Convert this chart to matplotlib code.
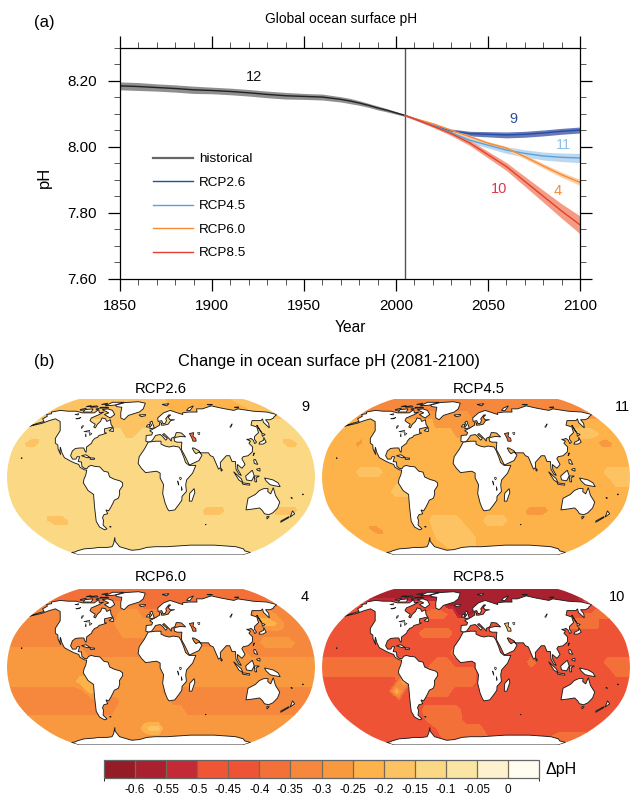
import numpy as np
import matplotlib
matplotlib.use("Agg")
import matplotlib.pyplot as plt
from matplotlib.colors import ListedColormap, BoundaryNorm
from matplotlib.colorbar import ColorbarBase
from matplotlib.patches import Polygon

plt.rcParams['font.family'] = ['Liberation Sans', 'DejaVu Sans']
W, H = 644, 805

# ---------- panel (a) data ----------
hist_years = [1850, 1860, 1870, 1880, 1890, 1900, 1910, 1920, 1930, 1940, 1950, 1960, 1970, 1975, 1980, 1985, 1990, 1995, 2000, 2005]
hist_ph = [8.185, 8.183, 8.180, 8.177, 8.173, 8.171, 8.168, 8.164, 8.159, 8.155, 8.153, 8.151, 8.144, 8.139, 8.133, 8.126, 8.118, 8.111, 8.103, 8.095]
hist_hw = [0.012, 0.012, 0.011, 0.011, 0.011, 0.010, 0.010, 0.010, 0.010, 0.010, 0.009, 0.009, 0.008, 0.008, 0.007, 0.006, 0.006, 0.005, 0.004, 0.003]
fut_years = [2005, 2010, 2020, 2030, 2040, 2050, 2060, 2070, 2080, 2090, 2100]
rcp26 = [8.095, 8.085, 8.065, 8.048, 8.040, 8.038, 8.036, 8.038, 8.042, 8.047, 8.051]
rcp26_hw = [0.002, 0.003, 0.004, 0.006, 0.007, 0.008, 0.009, 0.009, 0.009, 0.009, 0.009]
rcp45 = [8.095, 8.085, 8.065, 8.043, 8.020, 8.005, 7.990, 7.980, 7.972, 7.968, 7.966]
rcp45_hw = [0.002, 0.003, 0.004, 0.006, 0.008, 0.009, 0.010, 0.011, 0.012, 0.013, 0.014]
rcp60 = [8.095, 8.086, 8.070, 8.050, 8.031, 8.011, 7.996, 7.970, 7.942, 7.915, 7.892]
rcp60_hw = [0.002, 0.003, 0.003, 0.004, 0.004, 0.005, 0.005, 0.006, 0.007, 0.008, 0.009]
rcp85 = [8.095, 8.085, 8.063, 8.040, 8.012, 7.976, 7.940, 7.895, 7.850, 7.805, 7.763]
rcp85_hw = [0.002, 0.003, 0.004, 0.006, 0.008, 0.010, 0.012, 0.015, 0.018, 0.022, 0.027]
labels = ['historical', 'RCP2.6', 'RCP4.5', 'RCP6.0', 'RCP8.5']

# ---------- panel (b) data: dpH band letter per 10-degree ocean cell ----------
levels = [-0.65, -0.6, -0.55, -0.5, -0.45, -0.4, -0.35, -0.3, -0.25, -0.2, -0.15, -0.1, -0.05, 0.0, 0.05]
band_colors = ['#941c26', '#a9212f', '#c42a35', '#f05536', '#ee5336', '#f37139', '#f6883d',
               '#f8993f', '#fdb24a', '#fdc261', '#fbd883', '#fbe5a3', '#fdf2cd', '#fffcf0']
band_letters = 'ABCDEFGHIJKLMN'
row_lats = [85, 75, 65, 55, 45, 35, 25, 15, 5, -5, -15, -25, -35, -45, -55, -65, -75, -85]
lon_center = 10

grid26 = [
 'JJJJJJJJJJJJJJJJJJJIIIIIIIIIIIIIIJJJ',
 'JJJJJJJJJJJJJJJJJJJIIIIIIIIIIIIIIJJJ',
 'JJJJJJJJJJJJJJJJJJJJJIIIIIIIIIIJJJJJ',
 'KKKKKKKKKKKJJJJJJJKKKKKKKKKKKKKKKKKK',
 'KKKKKKKKKKKKKJJKKKKKKKKKKKKKKKKKKKKK',
 'KJJKKKKKKKKKKKKKKKKKKKKKKKKKKKKKKJJK',
 'KKKKKKKKKKKKKKKKKKKKKKKKKKKKKKKKKKKK',
 'KKKKKKKKKKKKKKKKKKKKKKKKKKKKKKKKKKKK',
 'KKKKKKKKKKKKKKKKKKKKKKKKKKKKKKKKKKKK',
 'KKKKKKKKKKKKKKKKKKKKKKKKKKKKKKKKKKKK',
 'KKKKKKKKKKKKKKKKKKKKKKKKKKKKKKKKKKKK',
 'KKKKKKKKKKKKKKKKKKKKKKKKKKKKKKKKKKKK',
 'KKKKKKKKKKKKKKKKKKKKKKKJJJKKKKKKJJJK',
 'KKKJJJKKKKKKKKKKKKKKKKKKKKKKKKKKKKKK',
 'KKKKKKKKKKKKKKKKKKKKKKKKKKKKKKKKKKKK',
 'KKKKKKKKKKKKKKKKKKKKKKKKKKKKKKKKKKKK',
 'KKKKKKKKKKKKKKKKKKKKKKKKKKKKKKKKKKKK',
 'KKKKKKKKKKKKKKKKKKKKKKKKKKKKKKKKKKKK',
]
grid45 = [
 'GGGGGGGGGGGGGGGGGGGGGGGGGGGGGGGGGGGG',
 'GGGGGGGGGGGGGGGGGGGGGGGGGGGGGGGGGGGG',
 'HHHHHHHHHHHHHHHHHGGGGGGGGGGGGGGGHHHH',
 'IIIIIIIIIIIIHHHHHHHHIIIIIIIIIIIIIIII',
 'IIIIIIIIIIIIIIIHHIIIIIIIIIIIIIIJJJII',
 'IIIHIIIIIIIIIIIIIIIIIIIIIIIIIIIIIHHI',
 'IIIIIIIIIIIIIIIIIIIIIIIIIIIIIIIIIIII',
 'IIIIIIIIIIIIIIIIIIIIIIIIIIIIIIIIIIII',
 'IIIIJJJIIIIIIIIIIIIIIIIIIIIIIIIIIJJJ',
 'IIIIIIIIIJIIIIIIIIIIIIIIIIIIIIIIIIJJ',
 'IIIIIIIIJJJIIIIIIIIIIIIIIIIIIIIIIIII',
 'IIIIIIIIIIIIIIIIIIIIIIIIIIIIIIIIIIII',
 'IIIIIIIIIIIIIIIIIIIIIIIIHHHIIIIIIIII',
 'IIIIIIIIIIIIJJJJIIIJJJIIIIIIIIIIIIII',
 'IIIHHIIIIIIIJJJJJIIIIIIIIIIIIIIIIIII',
 'IIIIIIIIIIIIJJJJJJIIIIIIIIIIIIIIIIII',
 'IIIIIIIIIIIIIJJJJJIIIIIIIIIIIIIIIIII',
 'IIIIIIIIIIIIIIIIIIIIIIIIIIIIIIIIIIII',
]
grid60 = [
 'FFFFFFFFFFFFFFFFFFFFFFFFFFFFFFFFFFFF',
 'FFFFFFFFFFFFFFFFFFFFFFFFFFFFFFFFFFFF',
 'GGGGGGGGGGGGGGGFFFFFFFFFFFFFFFFFFGGG',
 'GGGGGGGGGGGGHHHGGGGGGGGGGGGGGGGHHHGG',
 'GGGGGGGGGGGGHHHHHGGGGGGGGGGGGGGIIHGG',
 'GGGGGGGGGGGGGHHHHGGGGGGGGGGGGGGGGGGG',
 'GGGGGGGGGGGGGGGGGGGGGGGGGGGGGGHHHHGG',
 'HHHHHHHHHGGGGGGGHHHHHHHHHHHHGGGGGGGG',
 'HHHHHHHHHHHHHHHHHHHHHHHHHHHHHHHHHHHH',
 'HHHHHHHHHHHHHHHHHHHHHHHHHHHHHHHHHHHH',
 'HHHHHHHHIIHHHHHHHHHHHHHHHHHHHHHHHHHH',
 'GGGGGGGGGIHHHHHHHHGGGGGGGGGGGGGGGGGG',
 'GGGGGGGGGGGGGHHHHHHGGGGGGGGGGGGGGGGG',
 'GGGGGGGGGGGGHHHHHHHHHGGGGGGGGGGGGGGG',
 'HHHHHHHHHHHHHHHHHHHHHHHHHHHHHHHHHHHH',
 'HHHHHHHHHHHHHHHIJJHHHHHHHHHHHHHHHHHH',
 'HHHHHHHHHHHHHHHHHHHHHHHHHHHHHHHHHHHH',
 'HHHHHHHHHHHHHHHHHHHHHHHHHHHHHHHHHHHH',
]
grid85 = [
 'BBBBBBBBBBBBBBBBBBBBBBBBBBBBBBBBBBBB',
 'BBBBBBBBBBBBBBBBBBBBBBBBBBBBBBBBBBBB',
 'EEEEEEEEEEEEEBBBBBBBBBBBBBBBBBBBBBBE',
 'EEEEEEEEEEEFFFEBBBEEEEEEEEEEEEEEEFFF',
 'EEEEEEEEEEEEEEEEEEEEEEEEEEEEEFFFFFEE',
 'EEEEEEEEEEEFFFFEEEEEEEEEEEEEEEEEEEEE',
 'EEEEEEEEEEEEEEEEEEEEEEEEEEEEEEEEEEEE',
 'EEEEEEEEEEEEEEEFEEEEEEEEEEEEEEEEEEEE',
 'FFFFFFFFFFEEEFFEEEEEEEEEFEEEEEEEEFFF',
 'FFFFFFFFFFEEFFFFFFEEEEEEEEEEEEEEEEFF',
 'EEEEEEEEEIEEFFFFFFEEEEEEEEEEEEEEEEEE',
 'EEEEEEEEIEEFFFFEEEEEEEEEEEEEEEEEEEEE',
 'EEEEEEEEEEEEEEEEEEEEEEEEEEEEEEEEEEEE',
 'EEEEEEEEEEEFFFFFEEEEEEEEEEEEEEEEEEEE',
 'EEEEEEEEEEEFFFFFEEEEEEEEEEEEEEEEEEEE',
 'EEEEEEEEEEEEFFFFFFFEEEEEEEEEEEEEEEEE',
 'EEEEEEEEEEEEFFFFFFFFEEEEEEEEEEEFFFFF',
 'EEEEEEEEEEEEEEEEEEEEEEEEEEEEEEEFFFFF',
]
map_titles = ['RCP2.6', 'RCP4.5', 'RCP6.0', 'RCP8.5']
map_counts = ['9', '11', '4', '10']
caspian_bands = ['F', 'F', 'F', 'J']

# ---------- land outlines (lon, lat) ----------
americas = [(-168,66),(-162,67),(-166,69),(-156,71),(-141,70),(-128,70),(-115,68),(-108,68),(-96,68),(-94,72),(-88,68),(-82,69),(-86,66),(-94,62),(-93,59),(-88,57),(-82,55),(-82,52),(-79,51),(-79,55),(-77,58),(-78,62),(-72,61),(-68,58),(-64,60),(-60,55),(-56,52),(-66,50),(-65,48),(-64,46),(-61,45.5),(-66,44),(-70,43),(-71,41),(-74,40),(-76,37),(-76,35),(-81,31),(-80,25.5),(-82,27),(-84,30),(-89,30),(-94,29.5),(-97,27),(-98,22),(-95,18.5),(-91,18.5),(-90,21),(-87,21),(-88,16),(-84,15.5),(-83,11),(-80,9),(-77,8.5),(-75,11),(-72,12),(-68,11),(-62,10.5),(-57,6),(-52,5),(-50,0),(-44,-2.5),(-38,-4),(-35,-6),(-35,-9),(-39,-14),(-39,-18),(-41,-22),(-46,-24),(-48,-27),(-52,-32),(-55,-35),(-58,-34),(-57,-38),(-62,-39),(-65,-42),(-65,-45),(-68,-50),(-65,-54),(-69,-55),(-74,-52),(-75,-46),(-73,-40),(-71,-30),(-70,-18),(-76,-14),(-81,-6),(-80,-2),(-78,2),(-77,7),(-80,7.5),(-85,10),(-87,13),(-92,14.5),(-96,16),(-105,20),(-109,25),(-113,31),(-112,27),(-110,23),(-115,29),(-117,33),(-121,35),(-124,40),(-124,48),(-130,54),(-135,58),(-146,61),(-152,59),(-158,56),(-164,54.5),(-172,52.5),(-165,55.8),(-158,58),(-165,61),(-163,64)]
eurasia = [(-9,37),(-9,43),(-2,43.5),(-1,46),(-5,48),(2,51),(8,54),(8,57),(11,56),(10,54),(14,54),(20,55),(24,59),(30,60),(23,60),(21,63),(25,65.5),(22,65.5),(17,61),(18,59),(16,56),(13,55.5),(11,59),(6,58),(5,62),(14,68),(25,71),(40,67),(44,66),(44,68),(55,69),(68,69),(70,73),(80,73),(100,77),(113,74),(130,71),(140,73),(160,70),(180,69),(190,66),(180,63),(178,62),(170,60),(163,60),(162,56),(157,51),(156,57),(160,61),(155,59),(142,59),(135,54),(141,52),(138,46),(130,42),(128,39),(129,36),(126,34.5),(126,38),(124,40),(121,39),(118,39),(122,37),(119,35),(122,31),(120,26),(114,22),(108,21),(106,19),(109,13),(105,9),(100,13),(100,8),(104,1.5),(101,3),(98,8),(98,16),(94,16),(92,22),(88,22),(80,15),(80,10),(77.5,8),(73,19),(72,21),(69,22),(67,25),(57,25),(56,27),(50,30),(48,30),(50,26),(52,24),(56,26),(59,22.5),(55,17),(45,13),(43,13),(39,21),(35,28),(35,31),(36,36),(30,36),(27,37),(26.5,40),(29,41),(35,42),(41.5,41.5),(38,44.5),(37,45.5),(33,46),(30,46),(28,42),(26,41),(23,40),(23,37),(20,40),(14,45),(12,44),(18,40),(16,38),(12,42),(9,44),(3,43),(0,39),(-2,37),(-5,36)]
africa = [(-6,36),(3,37),(10,37),(10,34),(15,32),(20,31),(25,32),(32,31),(34,28),(37,21),(39,15),(43,12),(51,12),(47,4),(40,-3),(39,-8),(40,-15),(35,-20),(35,-24),(32,-28),(27,-34),(20,-35),(18,-33),(15,-27),(12,-17),(13,-8),(9,-1),(9,4),(5,6),(-4,5),(-8,4.5),(-13,9),(-17,14),(-16,21),(-10,29)]
greenland = [(-73,78),(-60,82),(-35,83.5),(-20,81),(-20,73),(-25,69),(-40,65),(-44,60),(-50,62),(-54,68),(-58,75),(-68,76)]
australia = [(114,-22),(122,-18),(126,-14),(131,-12),(136,-12),(136,-15),(140,-17.5),(142,-11),(146,-19),(153,-26),(153,-32),(150,-37),(146,-39),(140,-38),(136,-35),(131,-32),(124,-33),(115,-34),(114,-26)]
antarctica = [(-170,-84),(-160,-83),(-150,-81),(-130,-78),(-110,-77),(-100,-76),(-85,-76),(-75,-75),(-68,-71),(-60,-63.5),(-63,-68),(-62,-75),(-45,-80),(-30,-79),(-15,-76),(0,-75),(20,-75),(40,-74),(60,-73),(80,-73),(100,-73),(120,-74),(140,-75),(160,-78),(170,-81),(190,-84),(190,-90),(-170,-90)]
islands = [
 [(-80,73),(-70,71),(-62,66),(-66,62),(-72,64),(-78,66),(-73,68),(-88,72)],
 [(-117,72),(-105,73),(-102,69),(-115,69)],
 [(-90,77),(-75,78),(-62,82.5),(-85,82.5)],
 [(-125,72),(-118,74),(-116,72),(-122,71)],
 [(-95,75),(-82,75),(-80,74),(-95,74)],
 [(-115,76),(-105,77),(-100,75.5),(-112,75)],
 [(-100,79),(-92,81),(-90,79)],
 [(-122,76),(-116,77.5),(-114,76)],
 [(-100,73),(-95,73.5),(-96,71.5)],
 [(-59,48),(-53,47),(-55,51.5)],
 [(-24,65.5),(-14,66),(-14,64.5),(-20,63.5)],
 [(-5,50),(1,51),(-2,56),(-3,58.5),(-6,57),(-3,54),(-5,52)],
 [(-10,52),(-6,52),(-6,55),(-9,54)],
 [(12,79),(25,80),(20,77)],
 [(52,71),(57,74),(68,77),(58,71)],
 [(95,79),(105,79),(100,78)],
 [(137,75),(146,75.5),(142,74)],
 [(-85,22),(-80,23),(-74,20),(-78,20)],
 [(-74,19.8),(-69,19.5),(-69,18.3),(-74,18.2)],
 [(131,34),(136,34),(141,36),(141,41),(139,38),(133,36)],
 [(140,42),(145,44),(142,45.5)],
 [(142,46),(143,54),(142,50)],
 [(120,22),(122,25),(121,23)],
 [(120,18),(122,18),(124,13),(120,14)],
 [(122,8),(126,9),(126,6),(123,7)],
 [(109,1),(117,7),(119,1),(116,-4),(110,-3)],
 [(95,5.5),(104,-2),(106,-6),(101,-3)],
 [(105,-6),(114,-7),(114,-8.5),(106,-7.5)],
 [(119,1),(125,1),(121,-1),(122,-5),(120,-5)],
 [(131,-1),(141,-3),(147,-6),(150,-10),(143,-9),(138,-8),(133,-4)],
 [(80,9.5),(82,7),(80.5,6)],
 [(49,-12),(50,-16),(47,-25),(44,-25),(44,-17)],
 [(145,-41),(148,-41),(147,-43.5)],
 [(173,-35),(178,-38),(175,-41.5),(174,-38)],
 [(173,-41),(174,-42),(168,-47),(167,-45.5)],
 [(178,-17.5),(179,-18),(178,-18.5)],
 [(-156,20),(-155,19.5),(-156,19)],
 [(-60,-51.5),(-58,-51.5),(-59,-52.3)],
 [(70,-49),(70.5,-49.5),(69.5,-49.5)],
 [(165,-21),(167,-22),(165.5,-21.8)],
]
lakes = [
 [(32,0),(34,-1),(33,-3),(31.8,-2)],
 [(29.5,-4),(30,-5),(31,-8.5),(30,-7)],
 [(34,-10),(35,-13),(34.5,-14),(34,-12)],
 [(104,52),(110,55.5),(109,54.5),(105,51.5)],
 [(58,46),(61,46),(60,44),(58.5,44)],
 [(-124,66),(-119,67),(-118,65.5)],
 [(-116,61),(-110,62.5),(-112,61)],
 [(-99,53),(-97,53.5),(-97,51),(-97.5,50.5)],
 [(-92,47),(-85,48.5),(-85,46.7)],
 [(-88,45),(-86,42),(-87,41.8)],
 [(-84,46),(-80,45),(-82,43)],
]
caspian = [(47,45),(53,46),(51,42),(54,40),(54,37),(50,37),(49,41)]

# ---------- Robinson projection ----------
rob_lat = np.arange(0, 95, 5)
rob_x = [1, .9986, .9954, .99, .9822, .973, .96, .9427, .9216, .8962, .8679, .835, .7986, .7597, .7186, .6732, .6213, .5722, .5322]
rob_y = [0, .062, .124, .186, .248, .31, .372, .434, .4958, .5571, .6176, .6769, .7346, .7903, .8435, .8936, .9394, .9761, 1.0]
rob_h = 0.5072

def project(lon, lat):
    lon = np.asarray(lon, float)
    lat = np.asarray(lat, float)
    a = np.abs(lat)
    return np.interp(a, rob_lat, rob_x) * (lon - lon_center) / 180, np.sign(lat) * np.interp(a, rob_lat, rob_y) * rob_h


def px_axes(x0, y0, x1, y1):
    return fig.add_axes([x0 / W, 1 - y1 / H, (x1 - x0) / W, (y1 - y0) / H])


def ftext(x, y, s, **kw):
    kw.setdefault('ha', 'center')
    kw.setdefault('va', 'center')
    fig.text(x / W, 1 - y / H, s, **kw)


fig = plt.figure(figsize=(W / 100, H / 100), dpi=100)

# ---------- panel (a) ----------
ax = px_axes(120, 48, 580, 278.5)
ax.fill_between(hist_years, np.array(hist_ph) - hist_hw, np.array(hist_ph) + hist_hw, color='#8f8f8f', lw=0)
for vals, hw, band in [(rcp26, rcp26_hw, '#6a78b8'), (rcp45, rcp45_hw, '#bcd8f0'), (rcp60, rcp60_hw, '#fbd0a8'), (rcp85, rcp85_hw, '#f59c84')]:
    ax.fill_between(fut_years, np.array(vals) - hw, np.array(vals) + hw, color=band, lw=0)
ax.axvline(2005, color='#555555', lw=1)
ax.plot(hist_years, hist_ph, color='#222222', lw=1, label=labels[0])
for vals, col, lab in [(rcp26, '#1f4fa8', labels[1]), (rcp45, '#5aa2dc', labels[2]), (rcp60, '#f68b33', labels[3]), (rcp85, '#e2402f', labels[4])]:
    ax.plot(fut_years, vals, color=col, lw=1, label=lab)
ax.set_xlim(1850, 2100)
ax.set_ylim(7.6, 8.3)
ax.set_xticks(range(1850, 2101, 50))
ax.set_xticks(range(1850, 2101, 10), minor=True)
ax.set_yticks([7.6, 7.8, 8.0, 8.2])
ax.set_yticklabels(['7.60', '7.80', '8.00', '8.20'])
ax.set_yticks(np.arange(7.6, 8.31, 0.05), minor=True)
ax.tick_params(which='major', direction='out', length=8.5, width=0.9, top=True, right=True, labelsize=11)
ax.tick_params(axis='y', which='major', pad=8)
ax.tick_params(axis='x', which='major', pad=6)
ax.tick_params(which='minor', direction='out', length=4.3, width=0.7, top=True, right=True, color='#555555')
for s in ax.spines.values():
    s.set_linewidth(0.9)
leg = ax.legend(loc='upper left', bbox_to_anchor=(33 / 460, (278.5 - 153) / 230.5), frameon=False, fontsize=9.7,
                handlelength=3, handletextpad=0.4, labelspacing=0.82, borderpad=0, borderaxespad=0)
leg.get_lines()[0].set_color('#666666')
leg.get_lines()[0].set_linewidth(1.6)
for t, x, y, c in [('12', 1923, 8.212, '#111111'), ('9', 2064, 8.085, '#2a4fa0'), ('11', 2091, 8.006, '#8fc0e8'),
                   ('10', 2056, 7.873, '#e0344a'), ('4', 2088, 7.867, '#f68b33')]:
    ax.text(x, y, t, color=c, fontsize=10.5, ha='center', va='center')

ftext(44, 22, '(a)', fontsize=12)
ftext(341, 19, 'Global ocean surface pH', fontsize=9.9)
ftext(350, 327, 'Year', fontsize=11.2)
ftext(44, 177, 'pH', fontsize=12, rotation=90)
ftext(44, 361, '(b)', fontsize=12)
ftext(329, 361, 'Change in ocean surface pH (2081-2100)', fontsize=11.8)

# ---------- panel (b) ----------
cmap = ListedColormap(band_colors)
norm = BoundaryNorm(levels, cmap.N)
lat_edge = [92] + row_lats + [-92]
lon_cols = [lon_center - 185 + 10 * i for i in range(38)]
positions = [(7, 399, 315, 555), (322, 399, 630, 555), (7, 589, 315, 745), (322, 589, 630, 745)]
title_xy = [(161, 389), (479, 389), (161, 577), (479, 577)]
count_xy = [(305, 407), (622, 407), (305, 597), (617, 597)]
band_mid = {c: levels[i] + 0.025 for i, c in enumerate(band_letters)}

for k, grid in enumerate([grid26, grid45, grid60, grid85]):
    m = px_axes(*positions[k])
    m.set_xlim(-1, 1)
    m.set_ylim(-rob_h, rob_h)
    m.axis('off')
    vals = np.array([[band_mid[c] for c in row] for row in grid])
    vals = np.hstack([vals[:, :1], vals, vals[:, -1:]])
    vals = np.vstack([vals[:1], vals, vals[-1:]])
    LON, LAT = np.meshgrid(lon_cols, lat_edge)
    LATC = np.clip(LAT, -90, 90)
    X, Y = project(LON, LATC)
    Y = Y * np.where(np.abs(LAT) > 90, 1.02, 1.0)
    cs = m.contourf(X, Y, vals, levels=levels, colors=band_colors)
    lat_line = np.linspace(-90, 90, 181)
    xl, yl = project(np.full_like(lat_line, lon_center - 180), lat_line)
    xr, yr = project(np.full_like(lat_line, lon_center + 180), lat_line[::-1])
    outline = Polygon(np.c_[np.r_[xl, xr], np.r_[yl, yr]], closed=True, fc='none', ec='none', transform=m.transData)
    m.add_patch(outline)
    cs.set_clip_path(outline)
    for poly in [americas, eurasia, africa, greenland, australia, antarctica] + islands:
        arr = np.array(poly)
        px_, py_ = project(arr[:, 0], arr[:, 1])
        p = Polygon(np.c_[px_, py_], closed=True, fc='white', ec='#1c1c1c', lw=0.65, zorder=3)
        m.add_patch(p)
        p.set_clip_path(outline)
    for lake in lakes:
        arr = np.array(lake)
        px_, py_ = project(arr[:, 0], arr[:, 1])
        m.add_patch(Polygon(np.c_[px_, py_], closed=True, fc='white', ec='#1c1c1c', lw=0.5, zorder=4))
    arr = np.array(caspian)
    px_, py_ = project(arr[:, 0], arr[:, 1])
    m.add_patch(Polygon(np.c_[px_, py_], closed=True, fc=band_colors[band_letters.index(caspian_bands[k])],
                        ec='#1c1c1c', lw=0.6, zorder=4))
    ftext(*title_xy[k], map_titles[k], fontsize=10.7)
    ftext(*count_xy[k], map_counts[k], fontsize=10.5)

# ---------- colour bar ----------
cax = px_axes(104, 760, 539, 778)
cb = ColorbarBase(cax, cmap=cmap, norm=norm, orientation='horizontal', ticks=levels[1:-1], drawedges=True, spacing='uniform')
cb.set_ticklabels(['-0.6', '-0.55', '-0.5', '-0.45', '-0.4', '-0.35', '-0.3', '-0.25', '-0.2', '-0.15', '-0.1', '-0.05', '0'])
cb.ax.tick_params(length=0, labelsize=8.5, pad=4)
cb.dividers.set_color('#7a6a55')
cb.dividers.set_linewidth(0.9)
cb.outline.set_edgecolor('#666666')
cb.outline.set_linewidth(0.9)
ftext(561, 769, '\u0394pH', fontsize=11.5)

fig.savefig('out.png', dpi=100)
